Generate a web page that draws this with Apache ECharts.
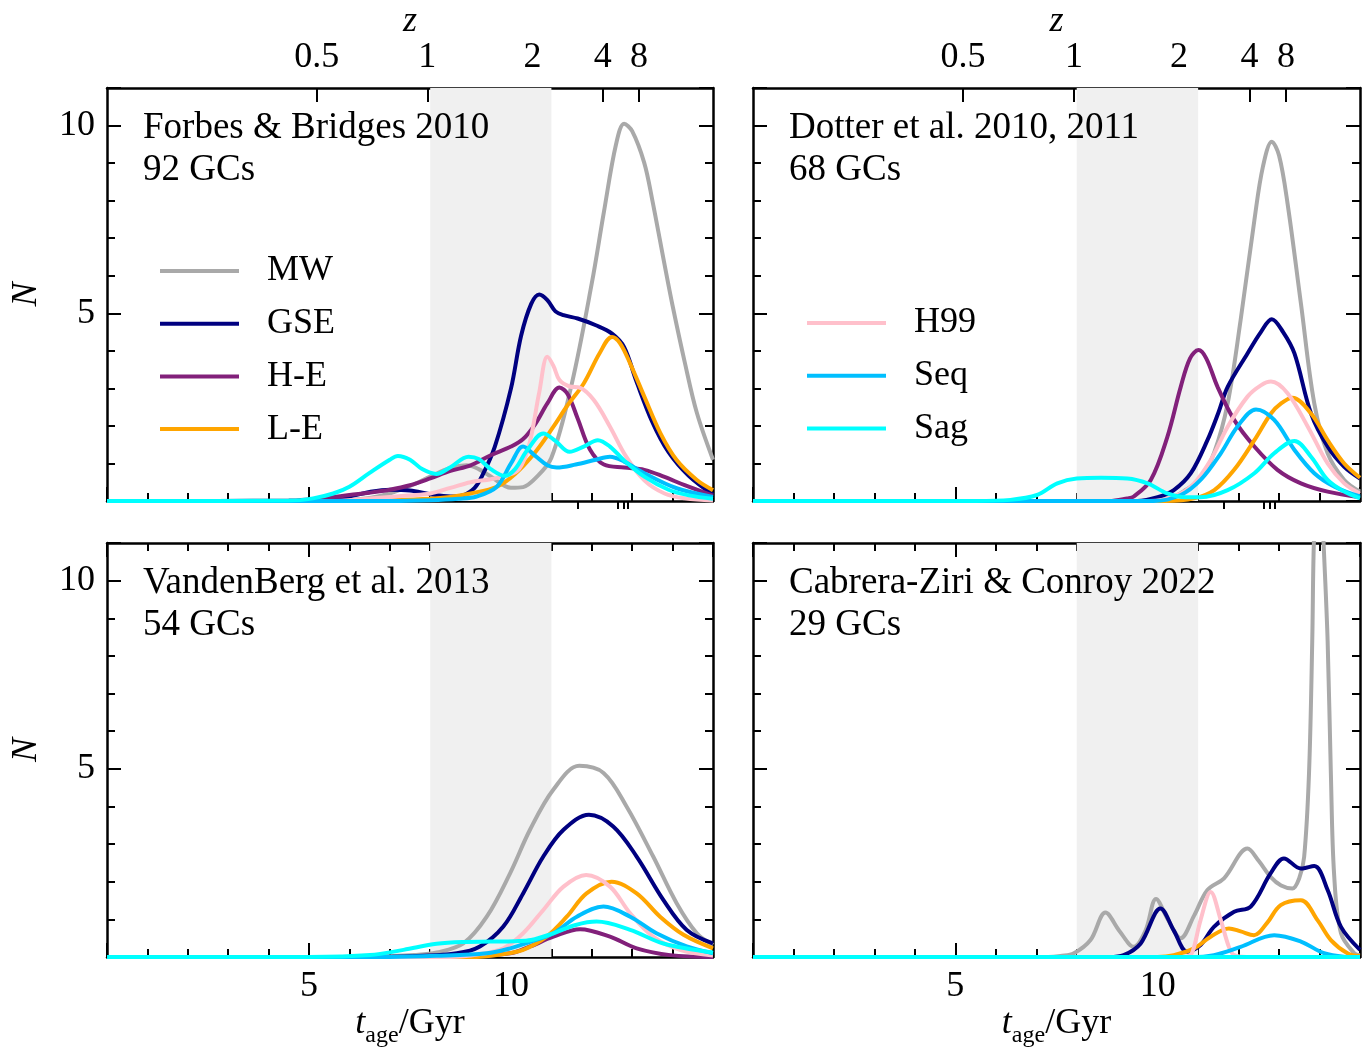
<!DOCTYPE html>
<html>
<head>
<meta charset="utf-8">
<script src="https://cdn.jsdelivr.net/npm/echarts@6/dist/echarts.min.js"></script>
<style>html,body{margin:0;padding:0;background:#fff}#chart{width:1368px;height:1048px}</style>
</head>
<body>
<div id="chart"></div>
<script>
// ages in Gyr, N per bin, pairs are [t_age, N]
const seriesNames = ['MW', 'GSE', 'H-E', 'L-E', 'H99', 'Seq', 'Sag']
const panelTitles = ['Forbes & Bridges 2010', 'Dotter et al. 2010, 2011', 'VandenBerg et al. 2013', 'Cabrera-Ziri & Conroy 2022']
const panelCounts = ['92 GCs', '68 GCs', '54 GCs', '29 GCs']
const bandAges = [8, 11]
const zMajorLabels = ['0.5', '1', '2', '4', '8']
const zMajorAges = [5.19, 7.93, 10.53, 12.27, 13.17]
const zMinorAges = [11.64, 12.63, 12.78, 12.9]

// Forbes & Bridges 2010
const fbMW = [[0,0],[5,0],[6,0.03],[6.5,0.08],[7,0.2],[7.5,0.4],[8,0.65],[8.5,0.88],[8.9,0.95],[9.2,0.85],[9.5,0.65],[10,0.35],[10.3,0.37],[10.6,0.6],[11,1.15],[11.5,3.1],[12,5.8],[12.3,7.7],[12.6,9.5],[12.8,10.05],[13,9.85],[13.3,9.0],[13.5,8.0],[13.8,6.3],[14,5.2],[14.3,3.7],[14.6,2.35],[15,1.1]]
const fbGSE = [[0,0],[4.5,0],[5,0.01],[5.5,0.04],[6,0.12],[6.5,0.24],[7,0.3],[7.5,0.28],[8,0.18],[8.5,0.12],[8.8,0.15],[9.1,0.35],[9.3,0.7],[9.6,1.45],[10,3.0],[10.25,4.4],[10.5,5.25],[10.7,5.5],[10.9,5.35],[11.1,5.05],[11.3,4.95],[11.65,4.86],[12.1,4.68],[12.5,4.46],[12.8,4.1],[13.1,3.2],[13.5,2.1],[13.9,1.3],[14.4,0.67],[15,0.17]]
const fbHE = [[0,0],[4.5,0.01],[5,0.04],[5.5,0.09],[6,0.16],[6.5,0.22],[7,0.3],[7.5,0.42],[8,0.6],[8.5,0.8],[9,0.95],[9.5,1.22],[10,1.45],[10.3,1.65],[10.6,2.05],[10.9,2.6],[11.2,3.02],[11.4,2.85],[11.65,2.2],[11.95,1.38],[12.3,0.97],[12.8,0.89],[13.3,0.83],[13.8,0.64],[14.3,0.42],[15,0.14]]
const fbLE = [[0,0],[6,0],[7,0.02],[8,0.06],[8.5,0.11],[9,0.2],[9.65,0.38],[10.1,0.72],[10.6,1.3],[11.05,1.98],[11.4,2.55],[11.8,3.13],[12.2,3.95],[12.5,4.37],[12.7,4.2],[12.95,3.66],[13.3,2.78],[13.7,1.8],[14.1,1.09],[14.6,0.56],[15,0.29]]
const fbH99 = [[0,0],[5.5,0],[6.5,0.07],[7.5,0.15],[8,0.2],[8.5,0.35],[9,0.5],[9.5,0.58],[9.9,0.68],[10.2,0.85],[10.45,1.5],[10.7,2.9],[10.9,3.84],[11.05,3.6],[11.2,3.22],[11.45,3.05],[11.7,3.02],[12.05,2.69],[12.45,1.98],[12.85,1.18],[13.3,0.55],[13.8,0.2],[14.3,0.07],[15,0.01]]
const fbSeq = [[0,0],[7,0],[8,0.02],[8.7,0.06],[9.15,0.12],[9.65,0.38],[10,1.0],[10.3,1.45],[10.6,1.2],[10.9,0.95],[11.13,0.89],[11.6,0.97],[12.1,1.1],[12.45,1.18],[12.8,1.05],[13.3,0.74],[14.1,0.34],[15,0.11]]
const fbSag = [[0,0],[4.5,0.01],[5.1,0.07],[5.6,0.2],[6,0.38],[6.5,0.75],[7,1.1],[7.2,1.2],[7.5,1.1],[7.8,0.85],[8.15,0.72],[8.5,0.9],[8.95,1.18],[9.2,1.12],[9.5,0.85],[9.85,0.67],[10.1,0.85],[10.4,1.35],[10.8,1.8],[11.1,1.6],[11.45,1.31],[11.8,1.45],[12.15,1.62],[12.45,1.45],[12.8,1.08],[13.3,0.65],[13.9,0.3],[14.4,0.15],[15,0.06]]

// Dotter et al. 2010, 2011
const dtMW = [[0,0],[9.5,0],[10.3,0.08],[10.7,0.3],[11.06,0.6],[11.4,1.3],[11.73,2.6],[12.05,4.82],[12.39,7.48],[12.6,8.9],[12.82,9.57],[13.0,9.2],[13.21,7.92],[13.54,5.26],[13.87,2.6],[14.2,1.27],[14.61,0.56],[15,0.25]]
const dtGSE = [[0,0],[9.5,0],[10,0.1],[10.4,0.29],[10.82,0.74],[11.23,1.62],[11.5,2.35],[11.73,3.04],[12.22,3.93],[12.55,4.5],[12.82,4.84],[13.1,4.5],[13.38,3.93],[13.79,2.33],[14.2,1.45],[14.61,0.91],[15,0.6]]
const dtHE = [[0,0],[8.8,0],[9.25,0.07],[9.41,0.12],[9.83,0.56],[10.24,1.71],[10.57,3.04],[10.8,3.8],[11.01,4.02],[11.2,3.8],[11.48,3.04],[11.89,2.16],[12.39,1.45],[12.96,0.83],[13.54,0.47],[14.2,0.25],[15,0.1]]
const dtLE = [[0,0],[10.2,0],[10.9,0.07],[11.4,0.29],[11.89,0.83],[12.39,1.62],[12.8,2.33],[13.05,2.6],[13.33,2.75],[13.79,2.33],[14.2,1.62],[14.61,1.0],[15,0.62]]
const dtH99 = [[0,0],[9.8,0],[10.49,0.16],[10.9,0.47],[11.31,1.09],[11.73,1.98],[12.22,2.78],[12.55,3.08],[12.8,3.18],[13.21,2.87],[13.71,1.98],[14.2,1.0],[14.61,0.47],[15,0.2]]
const dtSeq = [[0,0],[9.9,0],[10.57,0.16],[11.06,0.56],[11.56,1.27],[11.97,1.98],[12.43,2.44],[12.88,2.16],[13.38,1.36],[13.87,0.74],[14.37,0.38],[15,0.12]]
const dtSag = [[0,0],[5.5,0],[6.36,0.03],[7.02,0.16],[7.52,0.47],[8.0,0.6],[8.6,0.62],[9.25,0.6],[9.75,0.47],[10.24,0.2],[10.7,0.1],[11.06,0.1],[11.73,0.29],[12.39,0.74],[12.88,1.27],[13.38,1.6],[13.79,1.18],[14.2,0.56],[14.61,0.25],[15,0.07]]

// VandenBerg et al. 2013
const vbMW = [[0,0],[6,0],[7,0.02],[7.6,0.05],[8.16,0.12],[8.82,0.36],[9.4,1.07],[9.98,2.23],[10.47,3.38],[11.05,4.45],[11.69,5.08],[12.29,4.89],[12.86,4.0],[13.52,2.67],[14.1,1.43],[14.6,0.63],[15,0.32]]
const vbGSE = [[0,0],[6,0],[7.5,0.02],[8.66,0.1],[9.23,0.28],[9.81,0.81],[10.3,1.69],[10.8,2.67],[11.3,3.38],[11.93,3.78],[12.53,3.47],[13.11,2.67],[13.77,1.52],[14.35,0.72],[15,0.36]]
const vbHE = [[0,0],[8.5,0],[9.98,0.1],[10.47,0.28],[11.05,0.54],[11.71,0.74],[12.45,0.54],[13.11,0.23],[13.94,0.05],[15,0]]
const vbLE = [[0,0],[9,0],[9.7,0.06],[10.3,0.19],[10.88,0.54],[11.38,1.07],[11.87,1.69],[12.49,2.0],[13.11,1.69],[13.69,1.07],[14.27,0.59],[15,0.23]]
const vbH99 = [[0,0],[8.5,0],[9.2,0.07],[9.81,0.23],[10.3,0.63],[10.8,1.25],[11.3,1.87],[11.86,2.18],[12.45,1.87],[12.95,1.16],[13.52,0.54],[14.18,0.19],[15,0.04]]
const vbSeq = [[0,0],[7,0],[8.16,0.03],[9.4,0.1],[9.98,0.23],[10.47,0.4],[11.05,0.63],[11.63,1.07],[12.29,1.34],[12.95,1.07],[13.6,0.63],[14.35,0.28],[15,0.1]]
const vbSag = [[0,0],[5,0],[6.51,0.05],[7.34,0.19],[8.16,0.35],[8.8,0.4],[9.5,0.41],[10.1,0.42],[10.5,0.45],[11.05,0.63],[11.6,0.85],[12.12,0.94],[12.95,0.72],[13.77,0.36],[15,0.12]]

// Cabrera-Ziri & Conroy 2022
const czMW = [[0,0],[7.3,0],[7.6,0.03],[7.93,0.1],[8.34,0.45],[8.71,1.18],[9.05,0.7],[9.41,0.27],[9.7,0.7],[9.96,1.54],[10.25,1.0],[10.57,0.5],[10.9,1.1],[11.23,1.78],[11.64,2.09],[12.22,2.88],[12.5,2.55],[12.79,2.13],[13.05,1.9],[13.33,1.82],[13.5,2.1],[13.62,2.66],[13.74,4.88],[13.82,8.4],[13.86,11],[13.98,14],[14.1,11],[14.2,8.4],[14.28,4.88],[14.36,2.2],[14.53,0.63],[14.86,0.1],[15,0.05]]
const czGSE = [[0,0],[8.8,0],[9.16,0.05],[9.58,0.36],[10.07,1.29],[10.4,0.7],[10.73,0.14],[11.06,0.32],[11.39,0.8],[11.89,1.2],[12.3,1.34],[12.79,2.22],[13.12,2.62],[13.54,2.35],[13.87,2.42],[14.2,1.78],[14.53,0.8],[15,0.19]]
const czHE = [[0,0],[15,0]]
const czLE = [[0,0],[10.0,0],[10.4,0.05],[10.9,0.23],[11.31,0.54],[11.76,0.76],[12.05,0.68],[12.38,0.58],[12.7,0.9],[13.04,1.38],[13.54,1.51],[13.95,0.98],[14.28,0.45],[14.69,0.1],[15,0.02]]
const czH99 = [[0,0],[10.6,0],[10.81,0.05],[10.9,0.27],[11.06,0.98],[11.31,1.73],[11.56,0.98],[11.76,0.27],[11.89,0.05],[12.2,0],[15,0]]
const czSeq = [[0,0],[10.8,0],[11.39,0.05],[12.05,0.27],[12.88,0.58],[13.54,0.41],[14.11,0.1],[14.6,0.01],[15,0]]
const czSag = [[0,0],[15,0]]

const panelData = [
    [fbMW, fbGSE, fbHE, fbLE, fbH99, fbSeq, fbSag],
    [dtMW, dtGSE, dtHE, dtLE, dtH99, dtSeq, dtSag],
    [vbMW, vbGSE, vbHE, vbLE, vbH99, vbSeq, vbSag],
    [czMW, czGSE, czHE, czLE, czH99, czSeq, czSag]
]

const colors = ['#a9a9a9', '#000080', '#82207a', '#ffa500', '#ffc0cb', '#00bfff', '#00ffff']
const font = 'Liberation Serif'

const grids = [
    {left: 107, top: 88, width: 606, height: 413, outerBoundsMode: 'none', containLabel: false},
    {left: 753, top: 88, width: 607, height: 413, outerBoundsMode: 'none', containLabel: false},
    {left: 107, top: 543, width: 606, height: 414, outerBoundsMode: 'none', containLabel: false},
    {left: 753, top: 543, width: 607, height: 414, outerBoundsMode: 'none', containLabel: false}
]

const frame = {show: true, onZero: false, lineStyle: {color: '#000', width: 2.5}}
const tickLine = {color: '#000', width: 2}
const labelFont = {fontSize: 36, fontFamily: font, color: '#000'}

function ageAxis(gi, pos, showLabel) {
    return {
        type: 'value', gridIndex: gi, position: pos, min: 0, max: 15, interval: 5,
        axisLine: frame,
        axisTick: {show: true, inside: true, length: 14, lineStyle: tickLine},
        minorTick: {show: true, splitNumber: 5, length: 8, lineStyle: tickLine},
        axisLabel: Object.assign({show: showLabel, margin: 12, showMinLabel: false, showMaxLabel: false}, labelFont),
        splitLine: {show: false},
        name: showLabel ? '{t|t}{s|age}{g|/Gyr}' : '',
        nameLocation: 'middle', nameGap: 58,
        nameTextStyle: {
            rich: {
                t: {fontSize: 36, fontFamily: font, fontStyle: 'italic', color: '#000', lineHeight: 30, verticalAlign: 'bottom', padding: [0, 0, 6, 0]},
                s: {fontSize: 24, fontFamily: font, color: '#000', lineHeight: 20, verticalAlign: 'bottom'},
                g: {fontSize: 36, fontFamily: font, color: '#000', lineHeight: 30, verticalAlign: 'bottom', padding: [0, 0, 6, 0]}
            }
        }
    }
}

function zAxis(gi) {
    return {
        type: 'value', gridIndex: gi, position: 'top', min: 0, max: 15,
        axisLine: frame,
        axisTick: {show: true, inside: true, length: 14, customValues: zMajorAges, lineStyle: tickLine},
        axisLabel: Object.assign({
            show: true, margin: 12, customValues: zMajorAges,
            formatter: function (v) { return zMajorLabels[zMajorAges.indexOf(v)] }
        }, labelFont),
        splitLine: {show: false},
        name: 'z', nameLocation: 'middle', nameGap: 43,
        nameTextStyle: {fontSize: 36, fontFamily: font, fontStyle: 'italic', color: '#000'}
    }
}

function zMinorAxis(gi) {
    return {
        type: 'value', gridIndex: gi, position: 'top', min: 0, max: 15,
        axisLine: {show: false},
        axisTick: {show: true, inside: true, length: 8, customValues: zMinorAges, lineStyle: tickLine},
        axisLabel: {show: false},
        splitLine: {show: false}
    }
}

function nAxis(gi, pos, showLabel) {
    return {
        type: 'value', gridIndex: gi, position: pos, min: 0, max: 11, interval: 5,
        axisLine: frame,
        axisTick: {show: true, inside: true, length: 14, lineStyle: tickLine},
        minorTick: {show: true, splitNumber: 5, length: 8, lineStyle: tickLine},
        axisLabel: Object.assign({show: showLabel, margin: 12, showMinLabel: false, showMaxLabel: false}, labelFont),
        splitLine: {show: false},
        name: showLabel ? 'N' : '', nameLocation: 'middle', nameGap: 62, nameRotate: 90,
        nameTextStyle: {fontSize: 36, fontFamily: font, fontStyle: 'italic', color: '#000'}
    }
}

const xAxes = [
    ageAxis(0, 'bottom', false), zAxis(0), zMinorAxis(0),
    ageAxis(1, 'bottom', false), zAxis(1), zMinorAxis(1),
    ageAxis(2, 'bottom', true), ageAxis(2, 'top', false),
    ageAxis(3, 'bottom', true), ageAxis(3, 'top', false)
]
const bottomIndex = [0, 3, 6, 8]

const yAxes = []
for (let gi = 0; gi < 4; gi++) {
    yAxes.push(nAxis(gi, 'left', gi % 2 === 0))
    yAxes.push(nAxis(gi, 'right', false))
}

const series = []
panelData.forEach(function (panel, gi) {
    series.push({
        type: 'line', xAxisIndex: bottomIndex[gi], yAxisIndex: gi * 2, data: [], silent: true,
        markArea: {silent: true, itemStyle: {color: '#f0f0f0'}, data: [[{xAxis: bandAges[0]}, {xAxis: bandAges[1]}]]}
    })
    panel.forEach(function (d, k) {
        series.push({
            name: seriesNames[k], type: 'line', xAxisIndex: bottomIndex[gi], yAxisIndex: gi * 2,
            data: d, smooth: 0.35, showSymbol: false, silent: true,
            itemStyle: {color: colors[k]},
            lineStyle: {color: colors[k], width: 4}
        })
    })
})

const titles = panelTitles.map(function (t, i) {
    return {
        text: t + '\n' + panelCounts[i],
        left: grids[i].left + 36, top: grids[i].top + 19, padding: 0,
        textStyle: {fontSize: 37, fontFamily: font, fontWeight: 'normal', color: '#000', lineHeight: 42}
    }
})

function legendAt(left, top, names) {
    return {
        data: names, orient: 'vertical', left: left, top: top, padding: 0,
        icon: 'rect', itemWidth: 79, itemHeight: 4, itemGap: 16.7, symbolKeepAspect: false,
        itemStyle: {borderWidth: 0},
        selectedMode: false,
        textStyle: {fontSize: 36, fontFamily: font, color: '#000', lineHeight: 36, padding: [0, 0, 0, 23]}
    }
}

const option = {
    animation: false,
    backgroundColor: '#fff',
    title: titles,
    legend: [
        legendAt(160, 253, seriesNames.slice(0, 4)),
        legendAt(807, 305, seriesNames.slice(4))
    ],
    grid: grids,
    xAxis: xAxes,
    yAxis: yAxes,
    series: series
}

echarts.init(document.getElementById('chart')).setOption(option)
</script>
</body>
</html>
